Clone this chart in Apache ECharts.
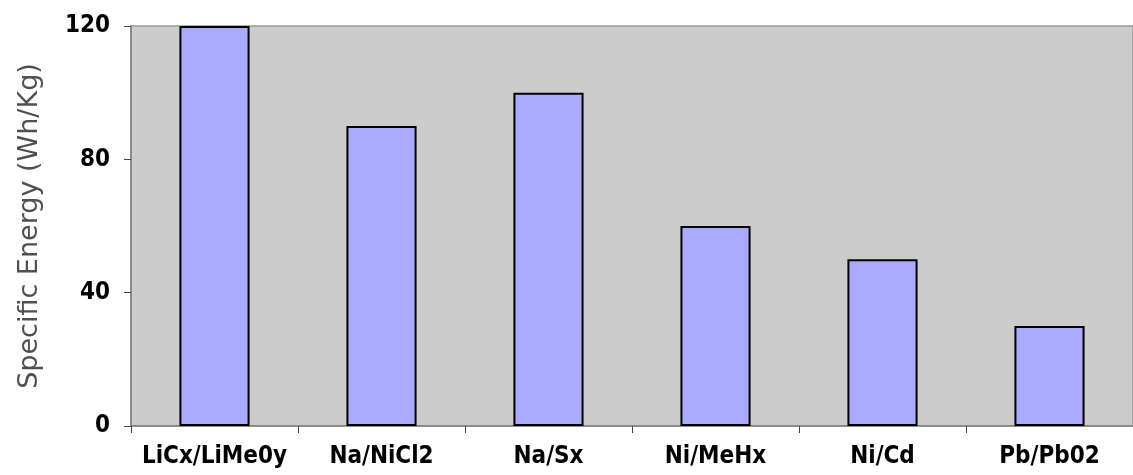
<!DOCTYPE html>
<html><head><meta charset="utf-8">
<script src="https://cdn.jsdelivr.net/npm/echarts@6/dist/echarts.min.js"></script>
<style>html,body{margin:0;padding:0;background:#fff}#c{width:1133px;height:475px}</style>
</head><body><div id="c"></div>
<script>
const categories = ["LiCx/LiMe0y", "Na/NiCl2", "Na/Sx", "Ni/MeHx", "Ni/Cd", "Pb/Pb02"];
const specificEnergy = [120, 90, 100, 60, 50, 30];
const yAxisName = "Specific Energy (Wh/Kg)";

const chart = echarts.init(document.getElementById('c'), null, {renderer: 'canvas'});
chart.setOption({
  animation: false,
  grid: {left: 131, right: 0, top: 26, bottom: 49, show: true, backgroundColor: '#CCCCCC', borderColor: '#999999', borderWidth: 1.5},
  xAxis: {
    type: 'category', data: categories,
    axisLine: {lineStyle: {color: '#808080', width: 1.5}},
    axisTick: {show: true, interval: 0, length: 7, lineStyle: {color: '#444'}},
    axisLabel: {interval: 0, color: '#000', fontSize: 24, fontWeight: 'bold', fontFamily: 'DejaVu Sans Condensed', margin: 19}
  },
  yAxis: {
    type: 'value', min: 0, max: 120, interval: 40,
    name: yAxisName, nameLocation: 'middle', nameGap: 88, nameRotate: 90,
    nameTextStyle: {color: '#505050', fontSize: 27, fontFamily: 'DejaVu Sans'},
    axisLine: {show: true, lineStyle: {color: '#808080', width: 1.5}},
    axisTick: {show: true, length: 7, lineStyle: {color: '#444'}},
    splitLine: {show: false},
    axisLabel: {color: '#000', fontSize: 24, fontWeight: 'bold', fontFamily: 'DejaVu Sans Condensed', margin: 21}
  },
  series: [{
    type: 'bar', data: specificEnergy, barWidth: '42%',
    itemStyle: {color: '#AAAAFF', borderColor: '#000', borderWidth: 2}
  }]
});
</script></body></html>
